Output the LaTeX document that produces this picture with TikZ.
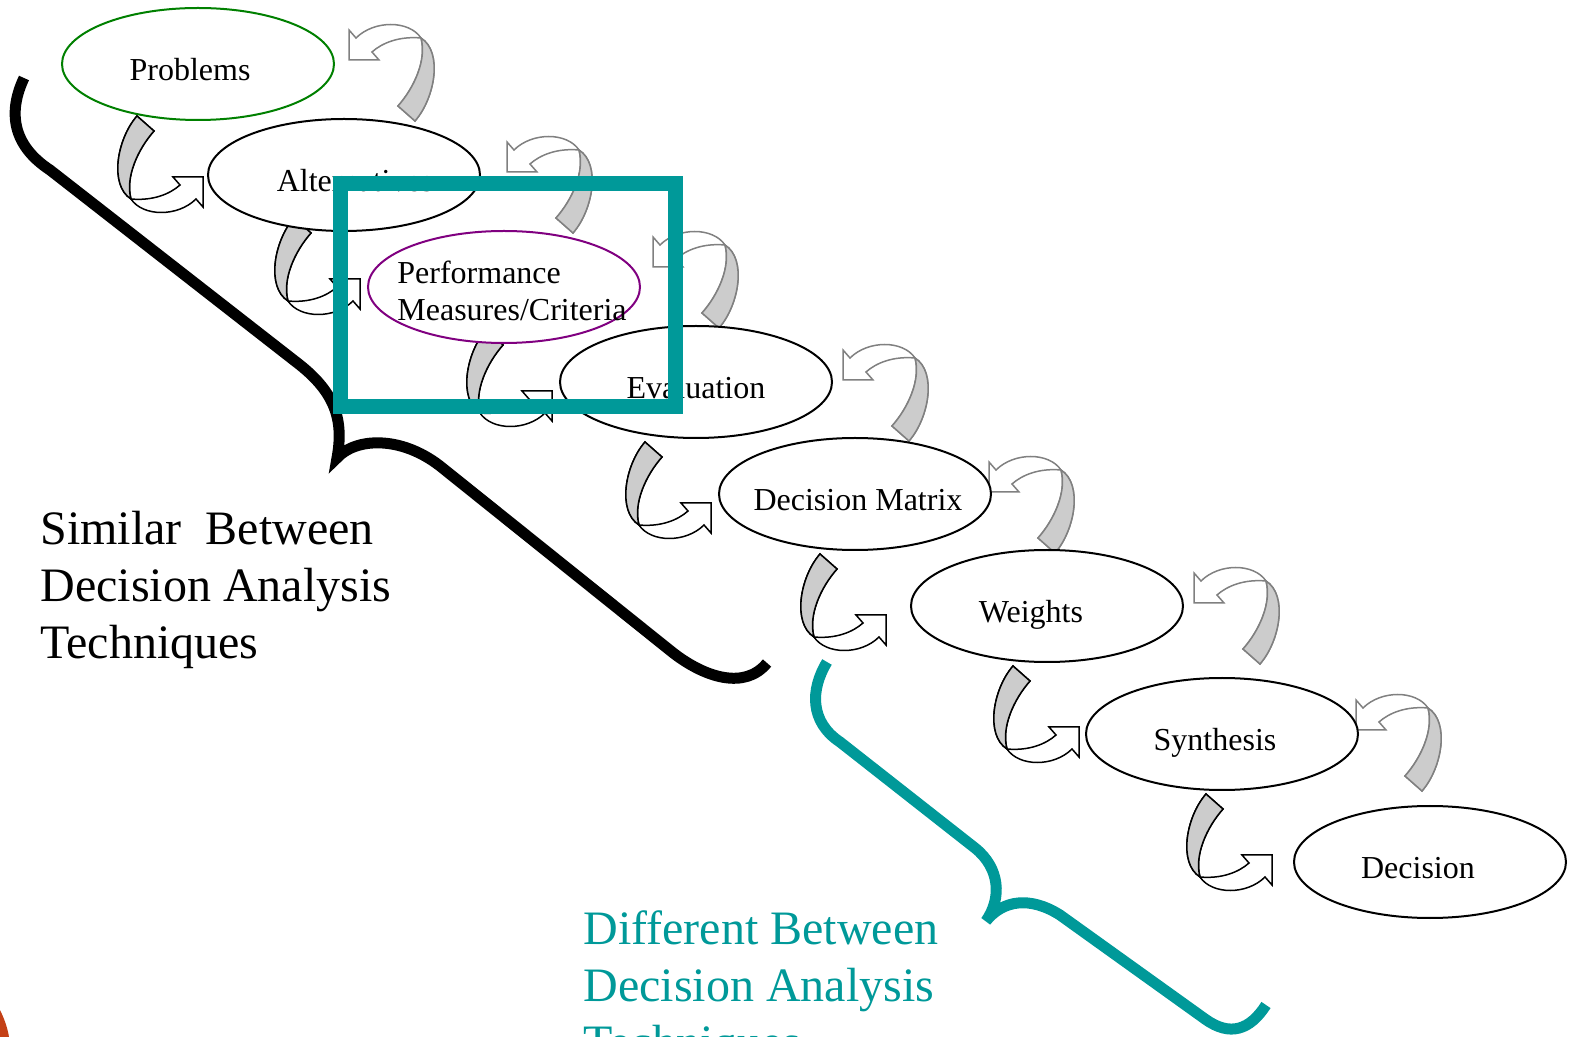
\documentclass[tikz,border=0pt]{standalone}
\usepackage{fontspec}
\setmainfont{Liberation Serif}
\usetikzlibrary{shapes.geometric,calc,backgrounds}

\definecolor{verdeazul}{RGB}{0,153,153}
\definecolor{verde}{RGB}{0,128,0}
\definecolor{morado}{RGB}{128,0,128}
\definecolor{gris}{RGB}{128,128,128}
\definecolor{cinta}{RGB}{204,204,204}
\definecolor{rojizo}{RGB}{196,64,22}

\tikzset{
  etapa/.style={ellipse, draw, fill=white, line width=1pt,
    minimum width=136pt, minimum height=56pt,
    inner xsep=-80pt, inner ysep=0pt, text height=16.5pt, text depth=0pt,
    font=\fontsize{16}{18.5}\selectfont},
  llave/.style={line width=5.5pt},
  grande/.style={align=left, anchor=north west, inner sep=0pt,
    font=\fontsize{24}{28.5}\selectfont},
  flecha/.pic={
    % parte blanca
    \filldraw[fill=white] (-66,-61) .. controls (-86,-38) and (-94,8) .. (-72,22)
      .. controls (-60,40) and (-25,40) .. (-7,22) -- (0,30) -- (0,0) -- (-30,0) -- (-23,8)
      .. controls (-33,17) and (-50,24) .. (-72,22)
      .. controls (-78,0) and (-65,-28) .. (-49,-46) -- cycle;
    % parte gris
    \filldraw[fill=cinta] (-66,-61) .. controls (-86,-38) and (-94,8) .. (-72,22)
      .. controls (-78,0) and (-65,-28) .. (-49,-46) -- cycle;
  }
}

\begin{document}
\begin{tikzpicture}[x=0.5pt,y=-0.5pt]
\useasboundingbox (0,0) rectangle (1571,1037);
\clip (0,0) rectangle (1571,1037);

% Etapas
\node[etapa, draw=verde] (prob) at (198,64) {Problems\hspace*{8pt}};
\node[etapa] (alt) at (344,175) {\hspace*{11pt}Alternatives};
\node[etapa, draw=morado] (perf) at (504,287) {};
\node[anchor=north west, inner sep=0pt, align=left, font=\fontsize{16}{18.5}\selectfont]
  (perftxt) at ($(perf.center)+(-107,-26)$) {Performance\\Measures/Criteria};
\node[etapa] (eval) at (696,382) {Evaluation};
\node[etapa] (dm) at (855,494) {\hspace*{3pt}Decision Matrix};
\node[etapa] (wts) at (1047,606) {Weights\hspace*{16pt}};
\node[etapa] (syn) at (1222,734) {Synthesis\hspace*{7pt}};
\node[etapa] (dec) at (1430,862) {Decision\hspace*{12pt}};

% Flechas curvas (detras de las elipses)
\begin{scope}[on background layer]
\foreach \b/\dx/\dy in {alt/-4/2, perf/-7/-8, eval/-7/9, dm/-7/9, wts/-24/9, syn/-6/-7, dec/-21/-7}
  \pic[line width=0.75pt] at ($(\b.west)+(\dx,\dy)$) {flecha};
\foreach \a/\dx/\dy in {prob/14/-4, alt/26/-3, perf/12/-20, eval/10/-2, dm/-3/-2, wts/10/-3, syn/-3/-4}
  \pic[rotate=180, color=gris, line width=0.75pt] at ($(\a.east)+(\dx,\dy)$) {flecha};
\end{scope}

% Llave negra
\draw[llave] (24,78) .. controls (8,112) and (12,145) .. (50,170) -- (300,365)
  .. controls (335,393) and (344,420) .. (337,458)
  .. controls (355,438) and (400,435) .. (440,466) -- (672,652)
  .. controls (705,678) and (745,690) .. (767,663);

% Llave verde
\draw[llave, verdeazul] (827,662) .. controls (810,690) and (810,722) .. (840,742) -- (975,848)
  .. controls (1000,868) and (1002,898) .. (986,921)
  .. controls (1003,900) and (1030,896) .. (1060,915) -- (1205,1019)
  .. controls (1230,1037) and (1250,1030) .. (1266,1005);

% Recuadro
\draw[verdeazul, line width=7.5pt] (340,184) rectangle (675,407);

% Textos
\node[grande] (similar) at (40,511) {Similar~ Between\\Decision Analysis\\Techniques};
\node[grande, text=verdeazul] (distinto) at (583,910) {Different Between\\Decision Analysis\\Techniques};

% Fragmento abajo a la izquierda
\fill[rojizo] (0,1010) .. controls (5,1020) and (8,1030) .. (9,1037) -- (0,1037) -- cycle;
\end{tikzpicture}
\end{document}
